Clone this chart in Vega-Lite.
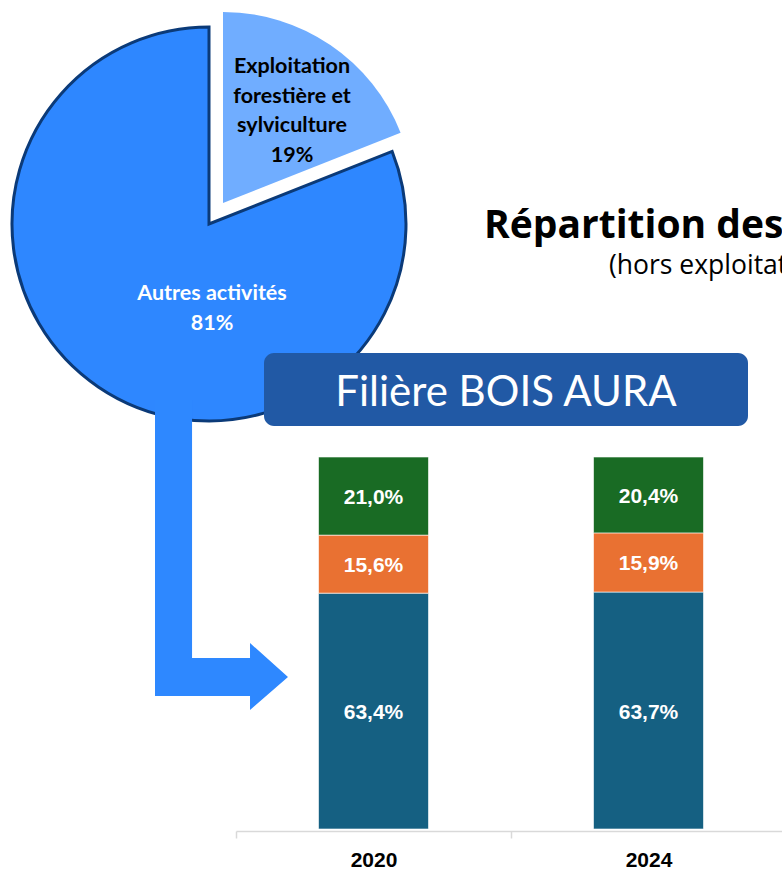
{
  "$schema": "https://vega.github.io/schema/vega-lite/v6.json",
  "width": 782,
  "height": 871,
  "padding": 0,
  "autosize": {"type": "none"},
  "background": "#FFFFFF",
  "config": {
    "view": {"stroke": null},
    "locale": {"number": {"decimal": ",", "thousands": " ", "grouping": [3], "currency": ["", " €"]}}
  },
  "datasets": {
    "pie": [
      {"secteur": "Exploitation forestière et sylviculture", "part": 0.19},
      {"secteur": "Autres activités", "part": 0.81}
    ],
    "bois": [
      {"annee": "2020", "segment": "Segment A", "rang": 1, "part": 0.634},
      {"annee": "2020", "segment": "Segment B", "rang": 2, "part": 0.156},
      {"annee": "2020", "segment": "Segment C", "rang": 3, "part": 0.21},
      {"annee": "2024", "segment": "Segment A", "rang": 1, "part": 0.637},
      {"annee": "2024", "segment": "Segment B", "rang": 2, "part": 0.159},
      {"annee": "2024", "segment": "Segment C", "rang": 3, "part": 0.204}
    ]
  },
  "layer": [
    {
      "data": {"name": "pie"},
      "mark": {"type": "arc", "x": 209, "y": 224, "outerRadius": 197, "stroke": "#0B3A78", "strokeWidth": 3},
      "encoding": {
        "theta": {"field": "part", "type": "quantitative", "stack": true},
        "order": {"field": "part", "sort": "ascending"},
        "color": {"field": "secteur", "type": "nominal", "legend": null,
          "scale": {"domain": ["Exploitation forestière et sylviculture", "Autres activités"], "range": ["#70ADFF", "#2E87FF"]}},
        "opacity": {"condition": {"test": "datum.secteur === 'Autres activités'", "value": 1}, "value": 0}
      }
    },
    {
      "data": {"name": "pie"},
      "mark": {"type": "arc", "x": 223, "y": 203, "outerRadius": 191, "strokeWidth": 0},
      "encoding": {
        "theta": {"field": "part", "type": "quantitative", "stack": true},
        "order": {"field": "part", "sort": "ascending"},
        "color": {"field": "secteur", "type": "nominal", "legend": null,
          "scale": {"domain": ["Exploitation forestière et sylviculture", "Autres activités"], "range": ["#70ADFF", "#2E87FF"]}},
        "opacity": {"condition": {"test": "datum.secteur === 'Autres activités'", "value": 0}, "value": 1}
      }
    },
    {
      "data": {"values": [{}]},
      "mark": {"type": "point", "shape": "M -0.429 -1 L -0.19 -1 L -0.19 0.665 L 0.184 0.665 L 0.184 0.568 L 0.429 0.787 L 0.184 1 L 0.184 0.91 L -0.429 0.91 Z",
        "x": 221.5, "y": 555, "size": 96100, "filled": true, "fill": "#2E88FF", "opacity": 1, "strokeWidth": 0},
      "encoding": {}
    },
    {
      "data": {"values": [{}]},
      "mark": {"type": "text", "text": ["Exploitation", "forestière et", "sylviculture", "19%"], "x": 292, "y": 67,
        "align": "center", "baseline": "middle", "lineHeight": 29.5, "font": "Lato", "fontWeight": "bold", "fontSize": 21.5, "fill": "#000000"},
      "encoding": {}
    },
    {
      "data": {"values": [{}]},
      "mark": {"type": "text", "text": ["Autres activités", "81%"], "x": 212, "y": 294,
        "align": "center", "baseline": "middle", "lineHeight": 30, "font": "Lato", "fontWeight": "bold", "fontSize": 21.5, "fill": "#FFFFFF"},
      "encoding": {}
    },
    {
      "data": {"values": [{}]},
      "mark": {"type": "text", "text": "Répartition des effectifs salariés de la filière", "x": 484, "y": 238,
        "align": "left", "baseline": "alphabetic", "font": "Open Sans", "fontWeight": "bold", "fontSize": 39, "fill": "#000000"},
      "encoding": {}
    },
    {
      "data": {"values": [{}]},
      "mark": {"type": "text", "text": "(hors exploitation forestière et sylviculture)", "x": 609, "y": 274,
        "align": "left", "baseline": "alphabetic", "font": "Open Sans", "fontSize": 26.5, "fill": "#000000"},
      "encoding": {}
    },
    {
      "data": {"values": [{}]},
      "mark": {"type": "rect", "x": 264, "x2": 748, "y": 353, "y2": 426, "cornerRadius": 10, "fill": "#2159A5"},
      "encoding": {}
    },
    {
      "data": {"values": [{}]},
      "mark": {"type": "text", "text": "Filière BOIS AURA", "x": 506, "y": 406,
        "align": "center", "baseline": "alphabetic", "font": "Lato", "fontSize": 42, "fill": "#FFFFFF"},
      "encoding": {}
    },
    {
      "data": {"name": "bois"},
      "layer": [
        {
          "mark": {"type": "bar", "width": {"band": 0.4}, "stroke": "#FFFFFF", "strokeWidth": 0.6},
          "encoding": {
            "x": {"field": "annee", "type": "nominal",
              "scale": {"range": [236, 786], "paddingInner": 0, "paddingOuter": 0},
              "axis": {"title": null, "labelAngle": 0, "offset": -40, "tickBand": "extent",
                "domainColor": "#D9D9D9", "domainWidth": 1.5, "tickColor": "#D9D9D9", "tickWidth": 1.5, "tickSize": 7,
                "labelFont": "Liberation Sans", "labelFontWeight": "bold", "labelFontSize": 21, "labelColor": "#000000", "labelPadding": 11}},
            "y": {"field": "part", "type": "quantitative", "stack": "zero", "scale": {"domain": [0, 1], "range": [829, 457]}, "axis": null},
            "order": {"field": "rang", "sort": "ascending"},
            "color": {"field": "segment", "type": "nominal", "legend": null,
              "scale": {"domain": ["Segment A", "Segment B", "Segment C"], "range": ["#156082", "#E97132", "#196B24"]}}
          }
        },
        {
          "mark": {"type": "text", "font": "Liberation Sans", "fontWeight": "bold", "fontSize": 21, "fill": "#FFFFFF", "baseline": "middle", "align": "center", "dy": 2},
          "encoding": {
            "x": {"field": "annee", "type": "nominal"},
            "y": {"field": "part", "type": "quantitative", "stack": "zero", "bandPosition": 0.5},
            "order": {"field": "rang", "sort": "ascending"},
            "text": {"field": "part", "type": "quantitative", "format": ".1%"}
          }
        }
      ]
    }
  ],
  "resolve": {"scale": {"color": "independent", "theta": "independent"}}
}
